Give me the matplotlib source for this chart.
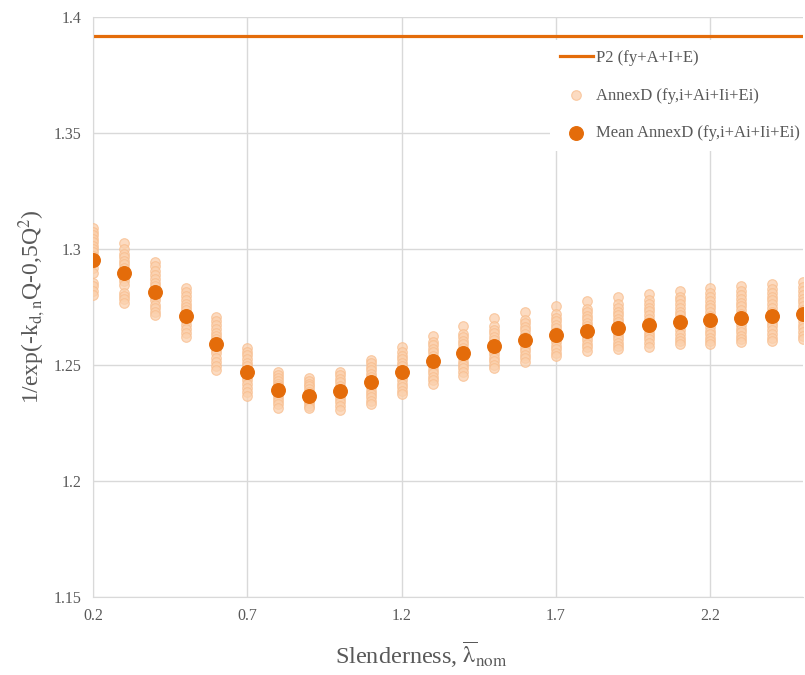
import matplotlib
matplotlib.use("Agg")
import matplotlib.pyplot as plt

plt.rcParams['font.family'] = ['Liberation Serif', 'DejaVu Serif']
plt.rcParams['mathtext.fontset'] = 'stix'

# slenderness values
slenderness = [0.2, 0.3, 0.4, 0.5, 0.6, 0.7, 0.8, 0.9, 1.0, 1.1, 1.2, 1.3,
               1.4, 1.5, 1.6, 1.7, 1.8, 1.9, 2.0, 2.1, 2.2, 2.3, 2.4, 2.5]

p2_value = 1.392

mean_annex_d = [1.2953, 1.2897, 1.2815, 1.2711, 1.2590, 1.2470, 1.2392, 1.2366,
                1.2388, 1.2427, 1.2470, 1.2517, 1.2552, 1.2582, 1.2608, 1.2630,
                1.2647, 1.2660, 1.2672, 1.2685, 1.2694, 1.2703, 1.2711, 1.2720]

# individual AnnexD samples, one list per slenderness
annex_d = [
    [1.309, 1.3075, 1.306, 1.3045, 1.303, 1.3015, 1.300, 1.2985, 1.297, 1.2955, 1.294, 1.292, 1.2895, 1.2855, 1.284, 1.282, 1.2802],
    [1.3026, 1.300, 1.298, 1.2965, 1.295, 1.2935, 1.292, 1.2905, 1.289, 1.2875, 1.286, 1.2845, 1.2812, 1.2798, 1.2783, 1.2767],
    [1.2944, 1.2925, 1.2905, 1.289, 1.287, 1.2855, 1.284, 1.2825, 1.281, 1.2795, 1.278, 1.276, 1.2745, 1.273, 1.2716],
    [1.2832, 1.2815, 1.2798, 1.278, 1.2765, 1.275, 1.2735, 1.272, 1.2705, 1.269, 1.2672, 1.2655, 1.2638, 1.262],
    [1.2707, 1.269, 1.2672, 1.2655, 1.264, 1.2625, 1.261, 1.2595, 1.258, 1.2565, 1.255, 1.2532, 1.2515, 1.2495, 1.2478],
    [1.2573, 1.2558, 1.2542, 1.2527, 1.251, 1.2495, 1.248, 1.2465, 1.245, 1.2435, 1.2418, 1.2402, 1.2385, 1.2366],
    [1.247, 1.2458, 1.2445, 1.2432, 1.242, 1.2408, 1.2395, 1.2383, 1.237, 1.2357, 1.2343, 1.233, 1.2315],
    [1.2444, 1.2432, 1.242, 1.2408, 1.2395, 1.2383, 1.237, 1.2358, 1.2346, 1.2334, 1.2322, 1.2315],
    [1.247, 1.2455, 1.244, 1.2425, 1.241, 1.2396, 1.2382, 1.2368, 1.2354, 1.234, 1.2325, 1.2306],
    [1.2522, 1.2507, 1.2492, 1.2477, 1.2462, 1.2447, 1.2432, 1.2418, 1.2404, 1.239, 1.2375, 1.236, 1.2346, 1.2332],
    [1.2578, 1.2555, 1.254, 1.2525, 1.251, 1.2495, 1.248, 1.2465, 1.245, 1.2435, 1.242, 1.2405, 1.239, 1.2375],
    [1.2625, 1.260, 1.2585, 1.257, 1.2555, 1.254, 1.2525, 1.251, 1.2495, 1.248, 1.2465, 1.245, 1.2434, 1.2418],
    [1.2668, 1.2635, 1.262, 1.2605, 1.259, 1.2575, 1.256, 1.2545, 1.253, 1.2515, 1.25, 1.2485, 1.247, 1.2453],
    [1.2703, 1.2668, 1.2652, 1.2637, 1.2622, 1.2607, 1.2592, 1.2577, 1.2562, 1.2547, 1.2532, 1.2517, 1.2502, 1.2487],
    [1.2728, 1.2695, 1.268, 1.2665, 1.265, 1.2635, 1.262, 1.2605, 1.259, 1.2575, 1.256, 1.2545, 1.253, 1.2513],
    [1.2754, 1.2718, 1.2703, 1.2688, 1.2673, 1.2658, 1.2643, 1.2628, 1.2613, 1.2598, 1.2583, 1.2568, 1.2553, 1.2539],
    [1.2776, 1.2742, 1.2727, 1.2712, 1.2697, 1.2682, 1.2667, 1.2652, 1.2637, 1.2622, 1.2607, 1.2592, 1.2577, 1.256],
    [1.2793, 1.2762, 1.2745, 1.273, 1.2715, 1.27, 1.2685, 1.267, 1.2655, 1.264, 1.2625, 1.261, 1.2595, 1.2582, 1.2569],
    [1.2806, 1.278, 1.2763, 1.2747, 1.2731, 1.2715, 1.27, 1.2685, 1.267, 1.2655, 1.264, 1.2625, 1.261, 1.2594, 1.2578],
    [1.2819, 1.2795, 1.2778, 1.2762, 1.2746, 1.273, 1.2714, 1.2698, 1.2682, 1.2666, 1.265, 1.2634, 1.2618, 1.2604, 1.2591],
    [1.2832, 1.281, 1.2793, 1.2776, 1.276, 1.2744, 1.2728, 1.2712, 1.2696, 1.268, 1.2664, 1.2648, 1.2632, 1.2616, 1.2603, 1.2591],
    [1.2841, 1.2818, 1.2801, 1.2785, 1.2769, 1.2753, 1.2737, 1.2721, 1.2705, 1.2689, 1.2673, 1.2657, 1.2641, 1.2625, 1.2611, 1.2599],
    [1.2849, 1.2826, 1.281, 1.2794, 1.2778, 1.2762, 1.2746, 1.273, 1.2714, 1.2698, 1.2682, 1.2666, 1.265, 1.2634, 1.2618, 1.2603],
    [1.2858, 1.2835, 1.2818, 1.2802, 1.2786, 1.277, 1.2754, 1.2738, 1.2722, 1.2706, 1.269, 1.2674, 1.2658, 1.2642, 1.2627, 1.2612],
]

xticks = [0.2, 0.7, 1.2, 1.7, 2.2]
yticks = [1.15, 1.2, 1.25, 1.3, 1.35, 1.4]
ytick_labels = ['1.15', '1.2', '1.25', '1.3', '1.35', '1.4']

orange = '#E46C0A'
grey = '#595959'

fig = plt.figure(figsize=(8.05, 6.75), dpi=100)
ax = fig.add_axes([0.1155, 0.1156, 0.882, 0.8592])

ax.axhline(p2_value, color=orange, lw=2.3, zorder=2, label='P2 (fy+A+I+E)')

xs, ys = [], []
for x, vals in zip(slenderness, annex_d):
    xs += [x] * len(vals)
    ys += vals
ax.scatter(xs, ys, s=48, facecolor='#FBD0AC', edgecolor='#F8BC8C', linewidth=0.8,
           alpha=0.75, zorder=3, label='AnnexD (fy,i+Ai+Ii+Ei)')
ax.scatter(slenderness, mean_annex_d, s=95, color=orange, zorder=4,
           label='Mean AnnexD (fy,i+Ai+Ii+Ei)')

ax.set_xlim(0.2, 2.5)
ax.set_ylim(1.15, 1.4)
ax.set_xticks(xticks)
ax.set_xticklabels([str(t) for t in xticks])
ax.set_yticks(yticks)
ax.set_yticklabels(ytick_labels)
ax.grid(True, color='#D9D9D9', lw=1)
ax.set_axisbelow(True)
for side in ['top', 'right']:
    ax.spines[side].set_visible(False)
for side in ['left', 'bottom']:
    ax.spines[side].set_color('#D9D9D9')
ax.tick_params(length=0, colors=grey, labelsize=11.5, pad=8)

ax.set_xlabel(r'Slenderness, $\overline{\mathrm{\lambda}}_{\mathrm{nom}}$', fontsize=17.5, color=grey)
ax.xaxis.set_label_coords(0.462, -0.075)
ax.set_ylabel(r'1/exp(-k$_{\mathrm{d,n}}$Q-0,5Q$^{2}$)', fontsize=17, color=grey)
ax.yaxis.set_label_coords(-0.065, 0.5)

leg = ax.legend(loc='upper right', bbox_to_anchor=(1.022, 0.975), frameon=True, fontsize=12,
                labelspacing=1.3, handlelength=2.0, handletextpad=0.2,
                borderpad=0.6, labelcolor=grey)
leg.get_frame().set_edgecolor('none')
leg.get_frame().set_facecolor('white')
leg.get_frame().set_alpha(1)
leg.get_frame().set_boxstyle('square', pad=0)

fig.savefig('out.png', dpi=100)
